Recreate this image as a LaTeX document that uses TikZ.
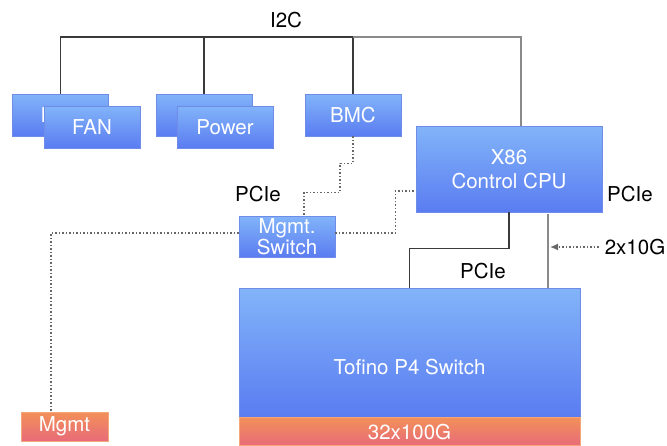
\documentclass[tikz,border=0pt]{standalone}
\usepackage{fontspec}
\setmainfont{TeX Gyre Heros}
\usetikzlibrary{positioning,arrows.meta}
\definecolor{bluetop}{HTML}{82B4F9}
\definecolor{bluebot}{HTML}{5A7CF1}
\definecolor{blueline}{HTML}{6F8DE8}
\definecolor{orgtop}{HTML}{F2905A}
\definecolor{orgbot}{HTML}{E86B78}
\definecolor{wiregray}{HTML}{8A8A8A}
\definecolor{wiredark}{HTML}{3A3A3A}
\tikzset{
  blk/.style={draw=blueline,line width=0.6pt,top color=bluetop,bottom color=bluebot,
    text=white,inner sep=0pt,align=center},
  smallblk/.style={blk,minimum width=96pt,minimum height=42pt},
  orgblk/.style={draw=orgtop!80!white,line width=0.6pt,top color=orgtop,bottom color=orgbot,
    text=white,inner sep=0pt},
  thinwire/.style={draw=wiredark,line width=1.1pt},
  thickwire/.style={draw=wiregray,line width=2pt},
  dotwire/.style={draw=wiregray!75!black,line width=1.5pt,dotted},
  lbl/.style={inner sep=0pt,text=black}
}
\begin{document}
\begin{tikzpicture}[x=1pt,y=-1pt,font=\fontsize{20.5}{21}\selectfont]
\useasboundingbox (0,0) rectangle (667,445);
% top row
\node[smallblk] (fanback) at (60.5,115) {FAN};
\node[smallblk] (fan) at (92,127) {FAN};
\node[smallblk] (powback) at (204,115) {};
\node[smallblk] (power) at (225,127) {Power};
\node[smallblk] (bmc) at (353,115) {BMC};
% cpu and switches
\node[blk,minimum width=186pt,minimum height=86pt,font=\fontsize{20.5}{24}\selectfont] (cpu) at (509,169) {X86\\Control CPU};
\node[blk,minimum width=96pt,minimum height=41pt] (mgsw) at (287,236.5) {Mgmt.\\Switch};
\node[blk,minimum width=341pt,minimum height=129pt,
  label={[text=white,inner sep=0pt,yshift=-15pt]center:Tofino P4 Switch}] (tofino) at (409.5,352.5) {};
\node[orgblk,minimum width=341pt,minimum height=28pt,below=0pt of tofino] (ports) {32x100G};
\node[orgblk,minimum width=87pt,minimum height=29pt] (mgmt) at (64.5,426.5) {Mgmt};
% labels
\node[lbl] (i2c) at (286,20) {I2C};
\node[lbl] (pcieleft) at (258,194) {PCIe};
\node[lbl] (pcieright) at (630,194) {PCIe};
\node[lbl] (pciemid) at (483,271) {PCIe};
\node[lbl] (tengig) at (635,247) {2x10G};
% i2c bus
\coordinate (bus) at (bmc.north |- 0,37);
\draw[thinwire] (fanback.north) |- (bus) -- (bmc.north);
\draw[thinwire] (powback.north) -- (powback.north |- bus);
\draw[thickwire] (bus) -| ([xshift=12pt]cpu.north);
% cpu to tofino
\draw[thinwire] (cpu.south) -- ++(0,36) -| (tofino.north);
\coordinate (tgtop) at ([xshift=39pt]cpu.south);
\draw[thickwire] ([yshift=-2pt]tgtop) -- (tgtop |- tofino.north);
\coordinate (tgtip) at (550,247);
\draw[dotwire,-{Latex[length=8pt,width=7pt]}] ([xshift=-6pt]tengig.west) -- (tgtip);
% management wiring
\draw[dotwire] (bmc.south) -- ++(0,27) -- ++(-13,0) -- ++(0,29) -| ([xshift=17pt]mgsw.north);
\draw[dotwire] ([yshift=3.5pt]mgsw.east) -- ++(60,0) |- ([yshift=-22pt]cpu.west);
\draw[dotwire] ([yshift=3.5pt]mgsw.west) -| ([xshift=-13.5pt]mgmt.north);
\end{tikzpicture}
\end{document}
